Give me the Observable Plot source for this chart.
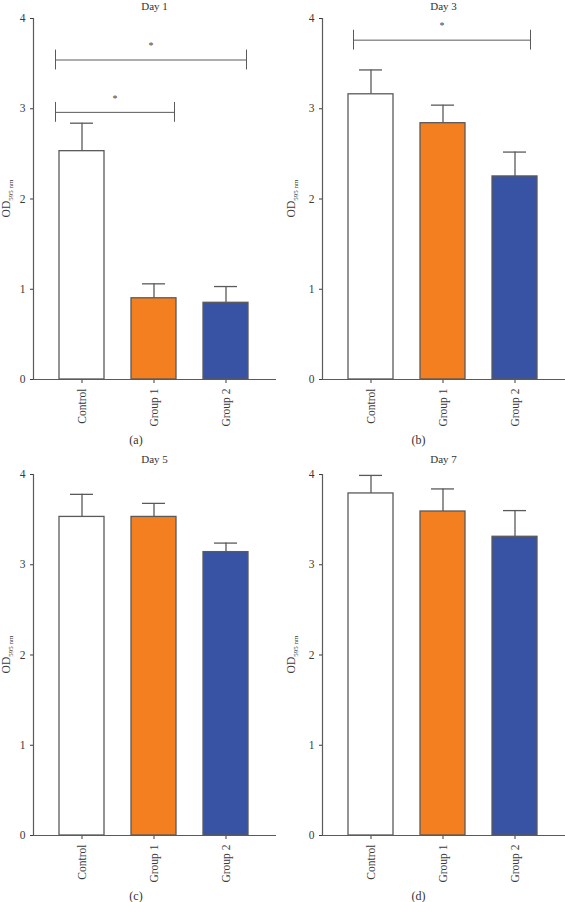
<!DOCTYPE html>
<html><head><meta charset="utf-8">
<script src="https://cdn.jsdelivr.net/npm/d3@7"></script>
<script src="https://cdn.jsdelivr.net/npm/@observablehq/plot@0.6"></script>
<style>
body{margin:0;background:#fff;}
#root{position:relative;width:565px;height:902px;overflow:hidden;font-family:"Liberation Serif","DejaVu Serif",serif;color:#333;}
.title,.cap{position:absolute;text-align:center;transform:translateX(-50%);white-space:nowrap;line-height:12px;font-weight:normal;}
.title{font-size:11px;}
.cap{font-size:12px;}
.cell{position:absolute;}
</style>
</head><body><div id="root"></div>
<script>
// ---- data ----
const groups = ["Control", "Group 1", "Group 2"];
const panelTitles = ["Day 1", "Day 3", "Day 5", "Day 7"];
const panelLabels = ["(a)", "(b)", "(c)", "(d)"];
const yTicks = [0, 1, 2, 3, 4];

const day1Mean = [2.53, 0.90, 0.85];
const day1SD   = [0.31, 0.16, 0.18];
const day3Mean = [3.16, 2.84, 2.25];
const day3SD   = [0.27, 0.20, 0.27];
const day5Mean = [3.53, 3.53, 3.14];
const day5SD   = [0.25, 0.15, 0.10];
const day7Mean = [3.79, 3.59, 3.31];
const day7SD   = [0.20, 0.25, 0.29];

const day1Brackets = [
  {from: "Control", to: "Group 2", level: 3.54, label: "*"},
  {from: "Control", to: "Group 1", level: 2.96, label: "*"}
];
const day3Brackets = [
  {from: "Control", to: "Group 2", level: 3.76, label: "*"}
];
const day5Brackets = [];
const day7Brackets = [];

const barColors = ["#ffffff", "#F47F20", "#3853A4"];

// ---- layout (styles) ----
const FONT = '"Liberation Serif","DejaVu Serif",serif';
const cols = [
  {left: 0, width: 282, marginLeft: 33, marginRight: 6, labelX: 10, bInL: -4, bInR: 2},
  {left: 282, width: 283, marginLeft: 40, marginRight: 0, labelX: 13, bInL: 5, bInR: 7}
];
const rows = [{svgTop: 8, titleTop: 0}, {svgTop: 464, titleTop: 453}];
const H = 420, MT = 10, MB = 49;
const STEP = 72, BW = 45;
const LINE = "#5a5a5a";

const panels = [
  {mean: day1Mean, sd: day1SD, brackets: day1Brackets},
  {mean: day3Mean, sd: day3SD, brackets: day3Brackets},
  {mean: day5Mean, sd: day5SD, brackets: day5Brackets},
  {mean: day7Mean, sd: day7SD, brackets: day7Brackets}
];

const root = document.getElementById("root");

panels.forEach((p, k) => {
  const c = cols[k % 2], r = rows[Math.floor(k / 2)];
  const data = groups.map((g, i) => ({group: g, mean: p.mean[i], top: p.mean[i] + p.sd[i]}));
  const idx = g => groups.indexOf(g);

  const bracketMarks = [];
  p.brackets.forEach(b => {
    const span = idx(b.to) - idx(b.from);
    // midpoint of the bracket, relative to the centre of the "from" band
    const left = -BW / 2 + c.bInL, right = span * STEP + BW / 2 - c.bInR;
    bracketMarks.push(
      Plot.ruleY([b], {x1: "from", x2: "to", y: "level", stroke: LINE, strokeWidth: 1, insetLeft: c.bInL, insetRight: c.bInR}),
      Plot.ruleX([b], {x: "from", y1: d => d.level - 0.11, y2: d => d.level + 0.11, stroke: LINE, strokeWidth: 1, dx: left}),
      Plot.ruleX([b], {x: "to", y1: d => d.level - 0.11, y2: d => d.level + 0.11, stroke: LINE, strokeWidth: 1, dx: BW / 2 - c.bInR}),
      Plot.text([b], {x: "from", y: "level", text: "label", dx: (left + right) / 2, dy: -14, fontSize: 10, fill: "#444"})
    );
  });

  const svg = Plot.plot({
    width: c.width, height: H,
    marginLeft: c.marginLeft, marginRight: c.marginRight, marginTop: MT, marginBottom: MB,
    style: {fontFamily: FONT, fontSize: "11.5px", color: "#3a3a3a", background: "transparent", overflow: "visible"},
    x: {domain: groups, paddingInner: 0.375, paddingOuter: 0.1875, insetLeft: 12.5, insetRight: 14.5, label: null, tickRotate: -90, tickSize: 4, tickPadding: 5},
    y: {domain: [0, 4], ticks: yTicks, tickFormat: d => String(d), label: null, tickSize: 3, tickPadding: 5},
    color: {domain: groups, range: barColors},
    marks: [
      Plot.barY(data, {x: "group", y: "mean", fill: "group", stroke: LINE, strokeWidth: 1.3}),
      Plot.ruleX(data, {x: "group", y1: "mean", y2: "top", stroke: LINE, strokeWidth: 1.3}),
      Plot.tickY(data, {x: "group", y: "top", stroke: LINE, strokeWidth: 1.3, inset: 11}),
      Plot.ruleY([0], {stroke: LINE, strokeWidth: 1.2}),
      Plot.frame({anchor: "left", stroke: LINE, strokeWidth: 1.2}),
      ...bracketMarks
    ]
  });

  // y-axis label with subscript
  const cy = MT + (H - MT - MB) / 2;
  const t = d3.select(svg).append("text")
    .attr("transform", `translate(${c.labelX},${cy}) rotate(-90)`)
    .attr("text-anchor", "middle")
    .attr("font-size", 11.5)
    .attr("font-family", FONT)
    .attr("fill", "#3a3a3a");
  t.append("tspan").text("OD");
  t.append("tspan").attr("font-size", 7).attr("dy", 3).text("595 nm");

  const cell = document.createElement("div");
  cell.className = "cell";
  cell.style.left = c.left + "px";
  cell.style.top = r.svgTop + "px";
  cell.appendChild(svg);
  root.appendChild(cell);

  const frameCenter = c.left + (c.marginLeft + c.width - c.marginRight) / 2;
  const title = document.createElement("div");
  title.className = "title";
  title.textContent = panelTitles[k];
  title.style.left = frameCenter + "px";
  title.style.top = r.titleTop + "px";
  root.appendChild(title);

  const cap = document.createElement("div");
  cap.className = "cap";
  cap.textContent = panelLabels[k];
  cap.style.left = (c.left + c.width / 2 - 5) + "px";
  cap.style.top = (r.svgTop + H - MB + 61 - 6) + "px";
  root.appendChild(cap);
});
</script>
</body></html>
